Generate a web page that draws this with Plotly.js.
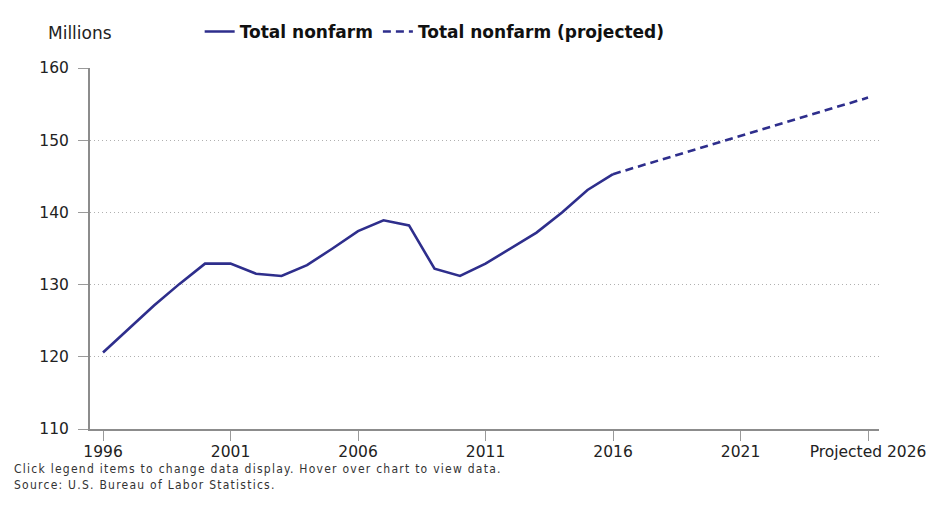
<!DOCTYPE html>
<html>
<head>
<meta charset="utf-8">
<script src="https://cdn.plot.ly/plotly-3.0.1.min.js"></script>
<style>
html,body{margin:0;padding:0;background:#fff;}
#chart{width:935px;height:510px;}
.annotation[data-index="1"] text{letter-spacing:1.25px;}
</style>
</head>
<body>
<div id="chart"></div>
<script>
// Data (millions of jobs)
const years = [1996, 1997, 1998, 1999, 2000, 2001, 2002, 2003, 2004, 2005, 2006,
               2007, 2008, 2009, 2010, 2011, 2012, 2013, 2014, 2015, 2016];
const totalNonfarm = [120.6, 123.9, 127.1, 130.1, 132.9, 132.9, 131.5, 131.2, 132.7, 135.0, 137.4,
                      138.9, 138.2, 132.2, 131.2, 132.9, 135.0, 137.2, 140.0, 143.1, 145.3];
const projYears = [2016, 2026];
const projValues = [145.3, 155.9];
const tickYears = [1996, 2001, 2006, 2011, 2016, 2021, 2026];
const tickLabels = ["1996", "2001", "2006", "2011", "2016", "2021", "Projected 2026"];
const yTicks = [110, 120, 130, 140, 150, 160];
const seriesNames = ["Total nonfarm", "Total nonfarm (projected)"];

const lineColor = "#2e2e8c";
const tickFont = {family: "DejaVu Sans, sans-serif", size: 15.5, color: "#222"};

const traces = [
  {
    x: years, y: totalNonfarm, type: "scatter", mode: "lines",
    name: seriesNames[0],
    line: {color: lineColor, width: 2.6}
  },
  {
    x: projYears, y: projValues, type: "scatter", mode: "lines",
    name: seriesNames[1],
    line: {color: lineColor, width: 2.6, dash: "8px,5px"}
  }
];

const layout = {
  width: 935, height: 510,
  margin: {l: 90, r: 56, t: 68, b: 81},
  paper_bgcolor: "#fff", plot_bgcolor: "#fff",
  font: {family: "DejaVu Sans, sans-serif", color: "#222", size: 16},
  showlegend: true,
  legend: {
    orientation: "h", x: 0.139, xanchor: "left", y: 1.1, yanchor: "middle",
    font: {family: "DejaVu Sans, sans-serif", size: 17, color: "#111", weight: "bold"},
    bgcolor: "rgba(0,0,0,0)", itemclick: false, itemdoubleclick: false
  },
  xaxis: {
    range: [1995.49, 2026.43],
    tickmode: "array", tickvals: tickYears, ticktext: tickLabels,
    showgrid: false, zeroline: false,
    showline: true, linecolor: "#8c8c8c", linewidth: 2,
    ticks: "outside", ticklen: 10, tickwidth: 1, tickcolor: "#9a9a9a",
    tickfont: tickFont, ticklabelstandoff: -3, fixedrange: true
  },
  yaxis: {
    range: [110, 160], tickmode: "array", tickvals: yTicks,
    showgrid: true, gridcolor: "#b0b0b0", griddash: "1px,3px", gridwidth: 1,
    zeroline: false,
    showline: true, linecolor: "#8c8c8c", linewidth: 2,
    ticks: "outside", ticklen: 10, tickwidth: 1, tickcolor: "#9a9a9a",
    tickfont: tickFont, ticklabelstandoff: 6, fixedrange: true
  },
  annotations: [
    {text: "Millions", xref: "paper", yref: "paper", x: -0.056, y: 1.097,
     xanchor: "left", yanchor: "middle", showarrow: false,
     font: {family: "DejaVu Sans, sans-serif", size: 17, color: "#222"}},
    {text: "Click legend items to change data display. Hover over chart to view data.<br>Source: U.S. Bureau of Labor Statistics.",
     xref: "paper", yref: "paper", x: -0.099, y: -0.085, xanchor: "left", yanchor: "top",
     align: "left", showarrow: false,
     font: {family: "DejaVu Sans Condensed, DejaVu Sans, sans-serif", size: 12, color: "#333"}}
  ]
};

Plotly.newPlot("chart", traces, layout, {displayModeBar: false});
</script>
</body>
</html>
